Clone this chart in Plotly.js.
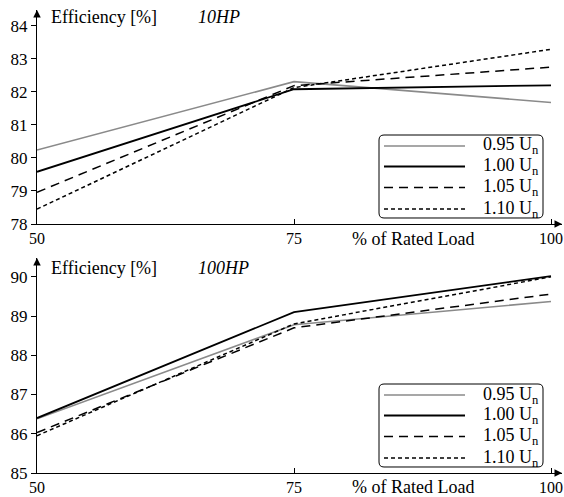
<!DOCTYPE html>
<html>
<head>
<meta charset="utf-8">
<script src="https://cdn.plot.ly/plotly-3.0.1.min.js"></script>
<style>html,body{margin:0;padding:0;background:#fff;}#chart{width:564px;height:497px;}</style>
</head>
<body>
<div id="chart"></div>
<script>
// ---- data ----
const load = [50, 75, 100];
const seriesNames = ["0.95 U<sub>n</sub>", "1.00 U<sub>n</sub>", "1.05 U<sub>n</sub>", "1.10 U<sub>n</sub>"];
const hp10_095 = [80.24, 82.31, 81.68];
const hp10_100 = [79.58, 82.08, 82.20];
const hp10_105 = [78.96, 82.19, 82.75];
const hp10_110 = [78.45, 82.13, 83.29];
const hp100_095 = [86.38, 88.78, 89.37];
const hp100_100 = [86.40, 89.10, 90.02];
const hp100_105 = [86.03, 88.70, 89.56];
const hp100_110 = [85.95, 88.80, 90.00];
const xTicks = [50, 75, 100];
const yTicksTop = [78, 79, 80, 81, 82, 83, 84];
const yTicksBot = [85, 86, 87, 88, 89, 90];

// ---- styles ----
const styles = [
  {color: "#8a8a8a", width: 1.6, dash: "solid"},
  {color: "#000000", width: 1.8, dash: "solid"},
  {color: "#000000", width: 1.5, dash: "9px,6px"},
  {color: "#000000", width: 1.5, dash: "4px,3px"}
];
const FONT = "'Liberation Serif', 'DejaVu Serif', serif";

// pixel helpers (plot area: x 37..562, y 10..473)
const L = 37, R = 562, T = 10, B = 473;
const px = v => (v - L) / (R - L);
const py = v => (B - v) / (B - T);

const topSeries = [hp10_095, hp10_100, hp10_105, hp10_110];
const botSeries = [hp100_095, hp100_100, hp100_105, hp100_110];
const traces = [];
topSeries.forEach((s, i) => traces.push({x: load, y: s, xaxis: "x", yaxis: "y", mode: "lines",
  line: styles[i], showlegend: false, name: seriesNames[i], hoverinfo: "skip"}));
botSeries.forEach((s, i) => traces.push({x: load, y: s, xaxis: "x2", yaxis: "y2", mode: "lines",
  line: styles[i], showlegend: false, name: seriesNames[i], hoverinfo: "skip"}));

const axisCommon = {showline: true, linecolor: "#000", linewidth: 1, showgrid: false, zeroline: false,
  tickfont: {family: FONT, size: 17, color: "#000"}, tickcolor: "#000", ticklen: 5, tickwidth: 1};
const xTickFont = {family: FONT, size: 16, color: "#000"};

const xRange = [50, 101.07];
const layout = {
  width: 564, height: 497,
  font: {family: FONT, size: 17, color: "#000"},
  margin: {l: L, r: 564 - R, t: T, b: 497 - B},
  paper_bgcolor: "#fff", plot_bgcolor: "#fff",
  showlegend: false,
  xaxis: Object.assign({}, axisCommon, {domain: [0, 1], anchor: "y", range: xRange, tickvals: xTicks, ticks: "inside", tickfont: xTickFont}),
  yaxis: Object.assign({}, axisCommon, {domain: [py(224), 1], anchor: "x", range: [78, 84.48], tickvals: yTicksTop, ticks: "outside"}),
  xaxis2: Object.assign({}, axisCommon, {domain: [0, 1], anchor: "y2", range: xRange, tickvals: xTicks, ticks: "inside", tickfont: xTickFont}),
  yaxis2: Object.assign({}, axisCommon, {domain: [0, py(258)], anchor: "x2", range: [85, 90.48], tickvals: yTicksBot, ticks: "outside"}),
  shapes: [], annotations: []
};

const txt = (x, y, text, opts) => Object.assign({xref: "paper", yref: "paper", x: x, y: y, text: text,
  showarrow: false, xanchor: "left", yanchor: "middle", font: {family: FONT, size: 18, color: "#000"}}, opts || {});

// axis labels
layout.annotations.push(txt(px(49), py(17), "Efficiency [%]"));
layout.annotations.push(txt(px(196), py(17), "<i>10HP</i>"));
layout.annotations.push(txt(px(49), py(268), "Efficiency [%]"));
layout.annotations.push(txt(px(196), py(268), "<i>100HP</i>"));
layout.annotations.push(txt(px(350), py(239), "% of Rated Load"));
layout.annotations.push(txt(px(350), py(487), "% of Rated Load"));

// arrow heads on axes
const arrow = (xref, yref, x, y, ax, ay) => ({xref: xref, yref: yref, x: x, y: y, ax: ax, ay: ay, text: "",
  showarrow: true, arrowhead: 2, arrowsize: 1.5, arrowwidth: 1, arrowcolor: "#000"});
layout.annotations.push(arrow("x", "y", 50, 84.48, 0, 8));
layout.annotations.push(arrow("x", "y", 101.07, 78, -8, 0));
layout.annotations.push(arrow("x2", "y2", 50, 90.48, 0, 8));
layout.annotations.push(arrow("x2", "y2", 101.07, 85, -8, 0));

// legends (manual, rounded box)
function roundRect(x0, y0, x1, y1, r) {
  const P = (X, Y) => px(X).toFixed(5) + "," + py(Y).toFixed(5);
  return "M" + P(x0 + r, y0) + " L" + P(x1 - r, y0) + " Q" + P(x1, y0) + " " + P(x1, y0 + r) +
    " L" + P(x1, y1 - r) + " Q" + P(x1, y1) + " " + P(x1 - r, y1) +
    " L" + P(x0 + r, y1) + " Q" + P(x0, y1) + " " + P(x0, y1 - r) +
    " L" + P(x0, y0 + r) + " Q" + P(x0, y0) + " " + P(x0 + r, y0) + " Z";
}
function addLegend(y0, y1, rows) {
  layout.shapes.push({type: "path", xref: "paper", yref: "paper", path: roundRect(379, y0, 543, y1, 5),
    line: {color: "#000", width: 1}, fillcolor: "#fff", layer: "above"});
  rows.forEach((ry, i) => {
    layout.shapes.push({type: "line", xref: "paper", yref: "paper", x0: px(384), x1: px(465), y0: py(ry), y1: py(ry),
      line: {color: styles[i].color, width: styles[i].width, dash: styles[i].dash}, layer: "above"});
    layout.annotations.push(txt(px(541), py(ry), seriesNames[i], {xanchor: "right"}));
  });
}
addLegend(135, 218, [146, 166.5, 187.5, 209]);
addLegend(384, 467, [395, 415.5, 436.5, 458]);

Plotly.newPlot("chart", traces, layout, {staticPlot: true});
</script>
</body>
</html>
